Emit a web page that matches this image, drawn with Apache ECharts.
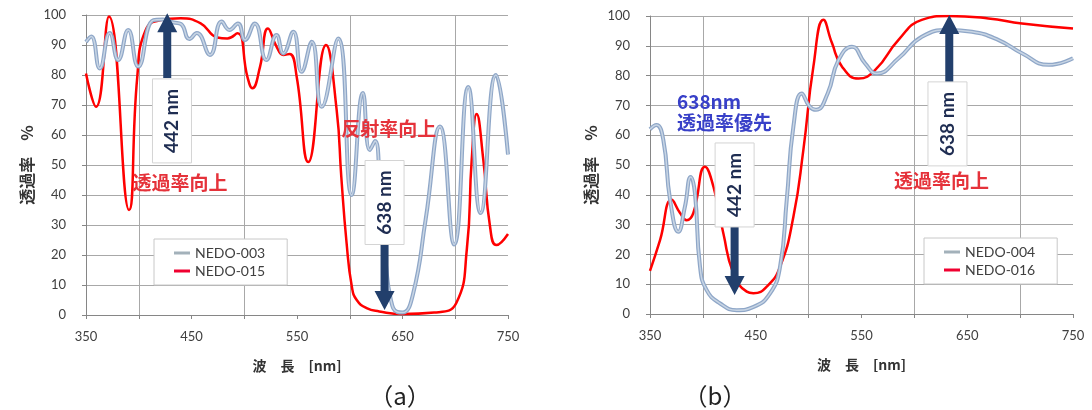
<!DOCTYPE html>
<html><head><meta charset="utf-8">
<script src="https://cdn.jsdelivr.net/npm/echarts@6/dist/echarts.min.js"></script>
<style>html,body{margin:0;padding:0;background:#fff}#c{width:1092px;height:410px}</style>
</head><body><div id="c"></div>
<script>
// ---- data: chart (a) ----
const wlA003 = [350,355,363,372.5,380.5,390,399.5,414,423,433,440,448,455,467.5,478.6,486,494,500.7,510,521,530.6,537,546.5,554.4,564,573.4,589,601.8,612.5,619,624,629,634,639,645,650,660,672,685.5,699,712.3,724,738.5,750];
const tA003  = [91,92.8,82.2,94,85,95,82.8,98.3,98.5,97.5,97,92,94,86.7,97.8,95,97.2,91.7,97.2,85,93.3,87.2,94.4,81.1,91.1,69.4,92.2,40,74,55,58,40,18,5,1,0.8,7,32,62.8,23.5,76,34,80,53.5];
const wlA015 = [350,359.5,371.8,390.8,398.6,406.6,420.8,439.7,458.7,474.5,484,493.5,503,507.7,515,522.5,530.7,537,543,549.7,560.7,577.5,587.6,592,597,602,606.6,616,628,650,680,701,711,715.6,720.3,726.6,733,739,750];
const tA015  = [80.5,69.4,99.5,35,79.4,95,98.3,98.9,97.2,92.5,92.2,93.9,79.4,75.6,82.8,95.5,89.4,86.7,87,79.4,51,90,68.3,46,24,9.4,5,2.3,1.2,0.3,0.8,4,22,51.7,67,51.7,29.4,23.3,27];
// ---- data: chart (b) ----
const wlB004 = [350,356,362.6,369,376.8,383,388.5,392.5,397.3,403.6,416,432,448,463.5,473,479.3,485.6,493.5,501,507,518,528,541,553.6,564.6,585,607,632.5,654.5,679.7,701.7,727,750];
const tB004  = [62,63.4,58.4,38.3,27.6,36,46,40.5,15.9,8,3.6,1.3,2.4,6.9,15.9,38.3,62.9,74,69.6,68.5,74,85,89.7,84,80.7,85.8,93,95.3,94.7,91.9,87.5,83.6,85.8];
const wlB016 = [350,359.5,370.5,378.4,384.7,391,402,410,419.4,428.8,441.5,447.8,460.4,473,485.6,495,504.5,514,522,531.6,547.3,563,585,607,632,670,701.7,750];
const tB016  = [14.5,24.8,38.3,33.9,31.5,33.9,49.4,42.7,27,13.7,7.5,7,9.2,15.9,32.6,55,83,98.7,91,83,79,81.9,92,98.7,100,99.2,97.5,95.8];
// ---- axes ----
const xTickLabels = [350,450,550,650,750];
const yTickLabels = [0,10,20,30,40,50,60,70,80,90,100];
const seriesNames = ['NEDO-003','NEDO-015','NEDO-004','NEDO-016'];

const pairs = (xs, ys) => xs.map((x, i) => [x, ys[i]]);
const RED = '#FF0000', BLUE = '#8FA7C8', BLUE_HI = '#C8D5E4';
const NUMF = 'Lato, "Liberation Sans", sans-serif';
const JPF = '"Noto Sans CJK JP", sans-serif';

const chart = echarts.init(document.getElementById('c'));

function xAx(g) {
  return {
    type: 'value', gridIndex: g, min: xTickLabels[0], max: xTickLabels[xTickLabels.length - 1], interval: 100,
    axisLine: { show: true, onZero: false, lineStyle: { color: '#868686', width: 1 } },
    axisTick: { show: true, length: 4, lineStyle: { color: '#868686' } },
    minorTick: { show: true, splitNumber: 2, length: 4, lineStyle: { color: '#868686' } },
    splitLine: { show: false },
    minorSplitLine: { show: true, lineStyle: { color: '#a8a8a8', width: 1 } },
    axisLabel: { margin: 15, fontSize: 13, color: '#404040', fontFamily: NUMF },
    name: '波　長　[nm]', nameLocation: 'middle', nameGap: 44,
    nameTextStyle: { fontSize: 14, fontWeight: 'bold', color: '#333', fontFamily: JPF }
  };
}
function yAx(g) {
  return {
    type: 'value', gridIndex: g, min: yTickLabels[0], max: yTickLabels[yTickLabels.length - 1], interval: 10,
    axisLine: { show: true, lineStyle: { color: '#868686', width: 1 } },
    axisTick: { show: true, length: 4, lineStyle: { color: '#868686' } },
    splitLine: { show: true, lineStyle: { color: '#a8a8a8', width: 1 } },
    axisLabel: { margin: 20, fontSize: 13, color: '#404040', fontFamily: NUMF },
    name: '透過率　%', nameLocation: 'middle', nameGap: 51, nameRotate: 90,
    nameTextStyle: { fontSize: 16, fontWeight: 'bold', color: '#333', fontFamily: JPF }
  };
}
function lineS(name, g, data, color, width, z, silent) {
  return {
    name: name, type: 'line', xAxisIndex: g, yAxisIndex: g, data: data, smooth: 0.5,
    showSymbol: false, symbol: 'none', silent: !!silent, z: z,
    lineStyle: { color: color, width: width }, itemStyle: { color: color }, animation: false
  };
}
function legendAt(left, top, names) {
  return {
    orient: 'vertical', left: left, top: top, icon: 'rect', itemWidth: 16, itemHeight: 3, itemGap: 4,
    backgroundColor: '#fff', borderColor: '#c8c8c8', borderWidth: 1, padding: [7, 22, 7, 20],
    textStyle: { fontSize: 14, color: '#404040', fontFamily: NUMF },
    data: [ { name: names[0], itemStyle: { color: '#A3B1BA' } }, { name: names[1], itemStyle: { color: '#F00030' } } ]
  };
}

chart.setOption({
  animation: false,
  backgroundColor: '#fff',
  grid: [
    { left: 86, top: 15, width: 422, height: 300 },
    { left: 650, top: 16, width: 423, height: 298 }
  ],
  xAxis: [xAx(0), xAx(1)],
  yAxis: [yAx(0), yAx(1)],
  legend: [ legendAt(154, 239, [seriesNames[0], seriesNames[1]]), legendAt(924, 238, [seriesNames[2], seriesNames[3]]) ],
  series: [
    lineS(seriesNames[1], 0, pairs(wlA015, tA015), RED, 2.5, 3),
    lineS(seriesNames[0], 0, pairs(wlA003, tA003), BLUE, 4, 4),
    lineS(seriesNames[0] + ' ', 0, pairs(wlA003, tA003), BLUE_HI, 1.5, 5, true),
    lineS(seriesNames[3], 1, pairs(wlB016, tB016), RED, 2.5, 3),
    lineS(seriesNames[2], 1, pairs(wlB004, tB004), BLUE, 4, 4),
    lineS(seriesNames[2] + ' ', 1, pairs(wlB004, tB004), BLUE_HI, 1.5, 5, true)
  ]
});

// ---- annotations (anchored in data units, converted through the axes) ----
const P = (g, x, y) => chart.convertToPixel({ xAxisIndex: g, yAxisIndex: g }, [x, y]);
const NAVY = '#223F6C';
const els = [];
function arrow(g, x, yBase, yTip) {
  const b = P(g, x, yBase), t = P(g, x, yTip);
  const dir = t[1] < b[1] ? -1 : 1; // -1 = up
  const sw = 4, hw = 10, hh = 19, cx = b[0];
  const neck = t[1] - dir * hh;
  els.push({ type: 'polygon', z: 100, shape: { points: [
    [cx - sw, b[1]], [cx - sw, neck], [cx - hw, neck], [cx, t[1]], [cx + hw, neck], [cx + sw, neck], [cx + sw, b[1]]
  ] }, style: { fill: NAVY } });
}
function box(g, x, y, label) {
  const c = P(g, x, y), w = 39, h = 84;
  els.push({ type: 'rect', z: 100, shape: { x: c[0] - w / 2, y: c[1] - h / 2, width: w, height: h },
    style: { fill: '#fff', stroke: '#d4d4d4', lineWidth: 1 } });
  els.push({ type: 'text', z: 101, x: c[0], y: c[1], rotation: Math.PI / 2,
    style: { text: label, align: 'center', verticalAlign: 'middle', font: 'bold 19px ' + NUMF, fill: '#1F2D52' } });
}
function note(g, x, y, text, color, align) {
  const c = P(g, x, y);
  els.push({ type: 'text', z: 102, x: c[0], y: c[1],
    style: { text: text, align: align || 'center', verticalAlign: 'middle', font: 'bold 19px ' + JPF, fill: color } });
}
// chart (a)
arrow(0, 427, 79, 100.6);
box(0, 431.5, 64.7, '442 nm');
arrow(0, 633, 24, 1.7);
box(0, 633, 37.5, '638 nm');
note(0, 439, 44, '透過率向上', '#E5323A');
note(0, 637, 62, '反射率向上', '#E5323A');
// chart (b)
arrow(1, 430, 29.2, 6.4);
box(1, 430, 43.3, '442 nm');
arrow(1, 633, 77.5, 100.3);
box(1, 631.3, 63.8, '638 nm');
note(1, 625.6, 44.6, '透過率向上', '#E5323A');
note(1, 375.5, 71.3, '638nm', '#3840C8', 'left');
note(1, 375.5, 64, '透過率優先', '#3840C8', 'left');
// panel captions
els.push({ type: 'text', z: 100, x: 400, y: 396, style: { text: '（a）', align: 'center', verticalAlign: 'middle', font: '24px ' + JPF, fill: '#222' } });
els.push({ type: 'text', z: 100, x: 715, y: 396, style: { text: '（b）', align: 'center', verticalAlign: 'middle', font: '24px ' + JPF, fill: '#222' } });

chart.setOption({ graphic: { elements: els } });
</script>
</body></html>
